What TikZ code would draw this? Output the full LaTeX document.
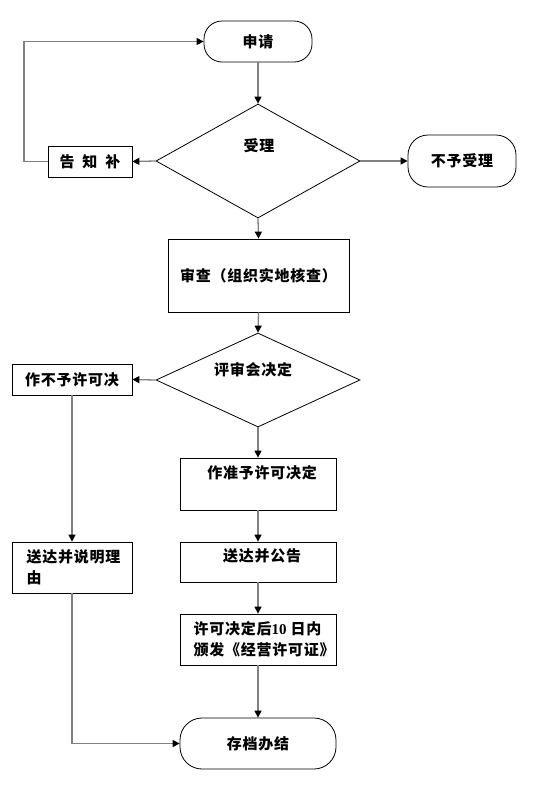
\documentclass[tikz,border=0pt]{standalone}
\usepackage{fontspec}
\setmainfont{Noto Sans CJK SC}[LetterSpace=5]
\newfontfamily\lat{Liberation Serif}
\usetikzlibrary{arrows.meta,shapes.geometric}
\begin{document}
\begin{tikzpicture}[x=1pt,y=-1pt,
  every node/.style={font=\fontsize{15}{21}\selectfont\bfseries},
  box/.style={draw=black, line width=0.8pt, rectangle, inner sep=0pt},
  term/.style={box, rounded corners=18pt},
  dec/.style={draw=black, line width=0.8pt, diamond, inner sep=0pt, minimum width=204pt},
  conn/.style={draw=gray, line width=1.3pt, -{Triangle[length=7pt,width=7pt,color=black]}},
  ]
\fill[white] (0,0) rectangle (552,812);
\useasboundingbox (0,0) rectangle (552,812);
\node[term, minimum width=108pt, minimum height=41pt] (sq) at (258,41.5) {申请};
\node[dec, minimum height=114pt] (d1) at (258,161) {};
\node (t1) at (259,146) {受理};
\node[box, minimum width=84pt, minimum height=31pt] (gzb) at (90,161.5) {告\hspace{8pt}知\hspace{8pt}补};
\node[term, minimum width=108pt, minimum height=52pt, rounded corners=20pt] (bysl) at (462,161) {不予受理};
\node[box, minimum width=181pt, minimum height=73pt] (sc) at (258.5,275.5) {审查（组织实地核查）};
\node[dec, minimum height=94pt] (d2) at (258,380) {};
\node (t2) at (253,370) {评审会决定};
\node[box, minimum width=120pt, minimum height=31pt] (bxk) at (72,379.5) {作不予许可决};
\node[box, minimum width=156pt, minimum height=52pt] (zxk) at (258,484) {};
\node (t3) at (262,473) {作准予许可决定};
\node[box, minimum width=156pt, minimum height=40pt] (sdgg) at (258,562) {};
\node (t4) at (262,556) {送达并公告};
\node[box, minimum width=156pt, minimum height=51pt] (bf) at (258,639.5) {};
\node[anchor=west, align=left] (t5) at (190,639.5) {许可决定后{\lat 10} 日内\\颁发《经营许可证》};
\node[box, minimum width=120pt, minimum height=51pt] (sdly) at (72,567.5) {};
\node[anchor=west, align=left] (t6) at (23,567) {送达并说明理\\由};
\node[term, minimum width=156pt, minimum height=51pt, rounded corners=22pt] (cd) at (258,743.5) {存档办结};
\coordinate (lp) at (24,161.5);
\draw[conn] (sq.south) -- (d1.north);
\draw[conn] (d1.west) -- (gzb.east);
\draw[conn] (d1.east) -- (bysl.west);
\draw[conn] (gzb.west) -- (lp) |- (sq.west);
\draw[conn] (d1.south) -- (sc.north);
\draw[conn] (sc.south) -- (d2.north);
\draw[conn] (d2.west) -- (bxk.east);
\draw[conn] (d2.south) -- (zxk.north);
\draw[conn] (bxk.south) -- (sdly.north);
\draw[conn] (zxk.south) -- (sdgg.north);
\draw[conn] (sdgg.south) -- (bf.north);
\draw[conn] (bf.south) -- (cd.north);
\draw[conn] (sdly.south) |- (cd.west);
\end{tikzpicture}
\end{document}
